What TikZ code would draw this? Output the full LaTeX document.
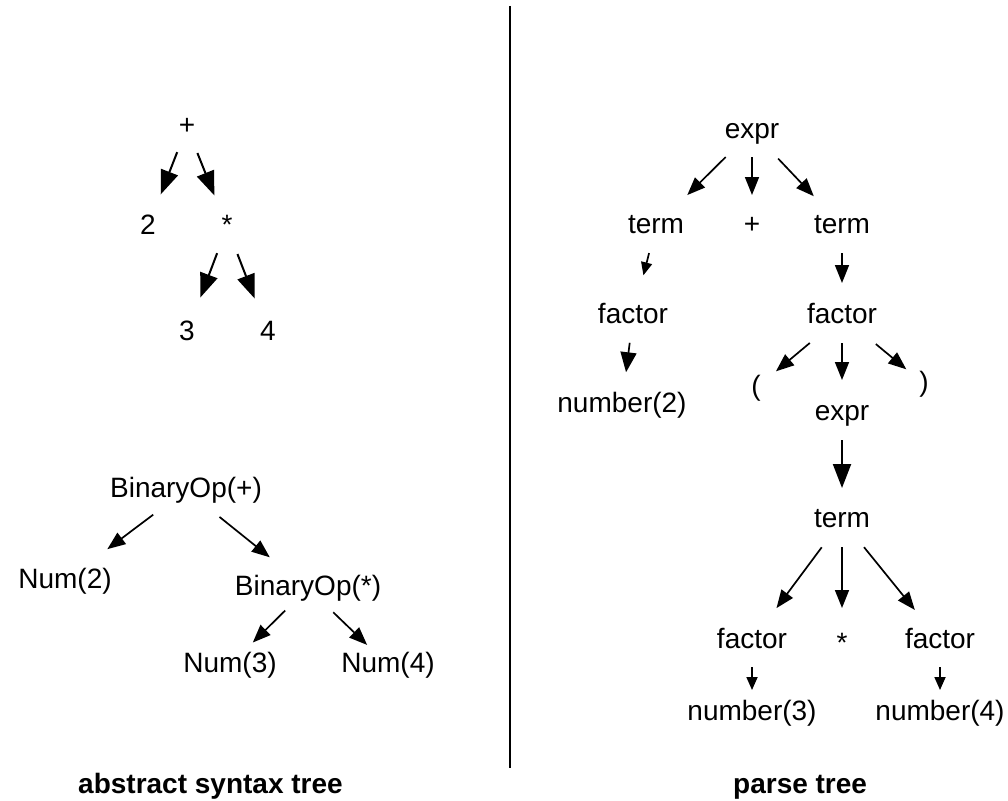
\documentclass[tikz,border=0pt]{standalone}
\usepackage{fontspec}
\setmainfont{Liberation Sans}
\usetikzlibrary{arrows.meta,calc}
\newcommand\myarrow[5]{\draw[#1] ($(#2)!#4!(#3)$) -- ($(#3)!#5!(#2)$);}
\begin{document}
\begin{tikzpicture}[x=1pt,y=-1pt,
  lbl/.style={anchor=base,inner sep=0pt,outer sep=0pt,text height=20pt,text depth=6pt,font=\fontsize{28}{32}\selectfont},
  captxt/.style={anchor=base west,inner sep=0pt,font=\fontsize{28}{32}\selectfont\bfseries},
  abig/.style={line width=2pt,-{Triangle[length=24pt,width=18pt]}},
  amid/.style={line width=1.7pt,-{Triangle[length=18pt,width=14pt]}},
  asmall/.style={line width=1.7pt,-{Triangle[length=13pt,width=11pt]}},
  sep/.style={line width=2pt}
]
\useasboundingbox (0,0) rectangle (1008,800);

% top-left tree
\node[lbl] (plus) at (187,134) {+};
\node[lbl] (two) at (148,234) {2};
\node[lbl] (star) at (227,234) {*};
\node[lbl] (three) at (187,340) {3};
\node[lbl] (four) at (268,340) {4};
\myarrow{abig}{plus}{two}{27pt}{35pt}
\myarrow{abig}{plus}{star}{28pt}{34pt}
\myarrow{abig}{star}{three}{28pt}{38pt}
\myarrow{abig}{star}{four}{29pt}{37pt}

% bottom-left tree
\node[lbl] (bplus) at (186,497) {BinaryOp(+)};
\node[lbl] (num2) at (65,588) {Num(2)};
\node[lbl] (bstar) at (308,595) {BinaryOp(*)};
\node[lbl] (num3) at (230,672) {Num(3)};
\node[lbl] (num4) at (388,672) {Num(4)};
\myarrow{amid}{bplus}{num2}{41pt}{53pt}
\myarrow{amid}{bplus}{bstar}{43pt}{49pt}
\myarrow{amid}{bstar}{num3}{32pt}{32pt}
\myarrow{amid}{bstar}{num4}{35pt}{29pt}

% separator
\coordinate (septop) at (510,6);
\coordinate (sepbot) at (510,768);
\draw[sep] (septop) -- (sepbot);

% right tree
\node[lbl] (expra) at (752,138) {expr};
\node[lbl] (terml) at (656,233) {term};
\node[lbl] (plusr) at (752,233) {+};
\node[lbl] (termr) at (842,233) {term};
\node[lbl] (factl) at (633,323) {factor};
\node[lbl] (factr) at (842,323) {factor};
\node[lbl] (numtwo) at (622,412) {number(2)};
\node[lbl] (lpar) at (756,395) {(};
\node[lbl] (rpar) at (924,391) {)};
\node[lbl] (exprb) at (842,420) {expr};
\node[lbl] (termb) at (842,527) {term};
\node[lbl] (factc) at (752,648) {factor};
\node[lbl] (starr) at (842,652) {*};
\node[lbl] (factd) at (940,648) {factor};
\node[lbl] (numthree) at (752,720) {number(3)};
\node[lbl] (numfour) at (940,720) {number(4)};

\myarrow{amid}{expra}{terml}{37pt}{44pt}
\myarrow{amid}{expra}{plusr}{26pt}{31pt}
\myarrow{amid}{expra}{termr}{38pt}{41pt}
\myarrow{asmall}{terml}{factl}{28pt}{42pt}
\draw[line width=1.7pt,-{Triangle[length=20pt,width=16pt]}] ($(factl)!27pt!(numtwo)$) -- ($(numtwo)!33pt!(factl)$);
\myarrow{amid}{termr}{factr}{27pt}{33pt}
\myarrow{amid}{factr}{lpar}{42pt}{26pt}
\myarrow{amid}{factr}{exprb}{27pt}{33pt}
\myarrow{amid}{factr}{rpar}{44pt}{23pt}
\myarrow{abig}{exprb}{termb}{27pt}{32pt}
\myarrow{amid}{termb}{factc}{34pt}{41pt}
\myarrow{amid}{termb}{starr}{27pt}{37pt}
\myarrow{amid}{termb}{factd}{35pt}{40pt}
\myarrow{asmall}{factc}{numthree}{26pt}{23pt}
\myarrow{asmall}{factd}{numfour}{26pt}{23pt}

% captions
\node[captxt] (capl) at (78,793) {abstract syntax tree};
\node[captxt] (capr) at (733,793) {parse tree};
\end{tikzpicture}
\end{document}
